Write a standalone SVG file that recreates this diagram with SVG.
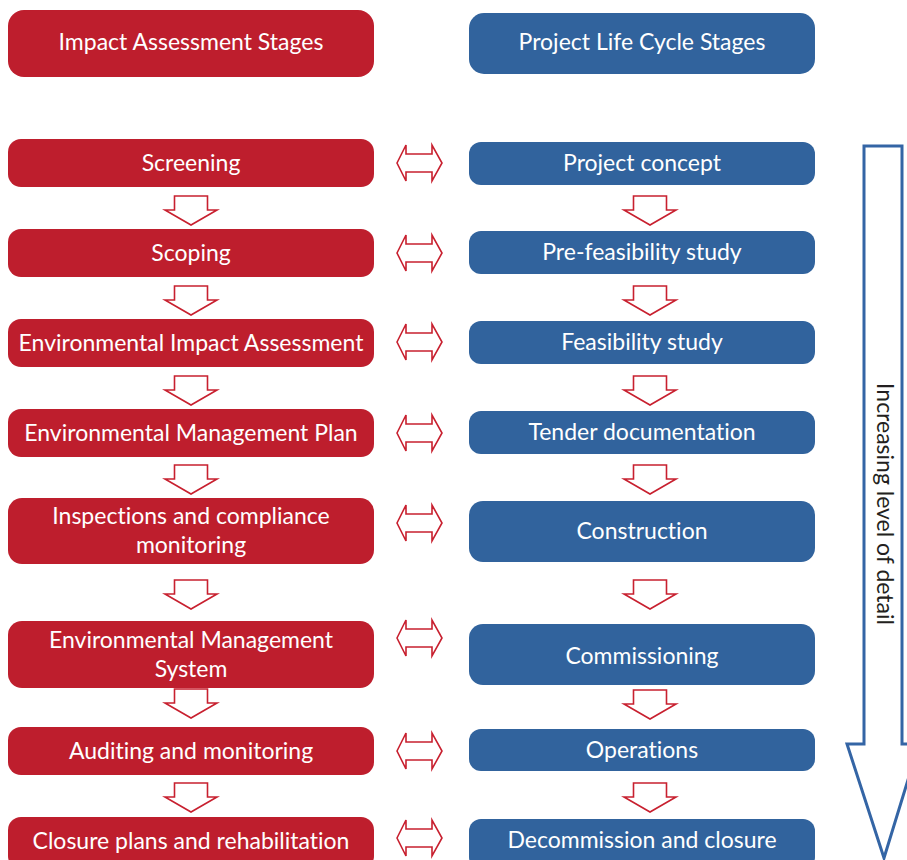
<svg xmlns="http://www.w3.org/2000/svg" xmlns:xlink="http://www.w3.org/1999/xlink" width="907" height="860" viewBox="0 0 907 860">
<style>
.red{fill:#BE1E2D}
.blue{fill:#31639D}
.t{fill:#fff;font-family:Lato,"Noto Sans","Liberation Sans",sans-serif;font-size:23px;text-anchor:middle;font-variant-ligatures:none}
.arr{fill:#fff;stroke:#C8202F;stroke-width:1.6;stroke-linejoin:miter}
.big{fill:none;stroke:#3465A5;stroke-width:3}
.lbl{fill:#231F20;font-family:Lato,"Noto Sans","Liberation Sans",sans-serif;font-size:23px;text-anchor:middle;font-variant-ligatures:none}
</style>
<defs>
<path id="down" d="M -16.5 0 H 16.5 V 14 H 26 L 0 29 L -26 14 H -16.5 Z"/>
<path id="dbl" d="M -22.5 0 L -13.5 -18 V -9 H 12.5 V -18 L 22.5 0 L 12.5 18 V 9 H -13.5 V 18 Z"/>
</defs>
<rect width="907" height="860" fill="#fff"/>

<g id="ia-header"><rect class="red" x="8" y="10" width="366" height="67" rx="16"/><text class="t" x="191" y="50">Impact Assessment Stages</text></g>
<g id="ia-screening"><rect class="red" x="8" y="139" width="366" height="48" rx="13"/><text class="t" x="191" y="171">Screening</text></g>
<g id="ia-scoping"><rect class="red" x="8" y="229" width="366" height="48" rx="13"/><text class="t" x="191" y="261">Scoping</text></g>
<g id="ia-eia"><rect class="red" x="8" y="319" width="366" height="48" rx="13"/><text class="t" x="191" y="351">Environmental Impact Assessment</text></g>
<g id="ia-emp"><rect class="red" x="8" y="409" width="366" height="48" rx="13"/><text class="t" x="191" y="441">Environmental Management Plan</text></g>
<g id="ia-inspections"><rect class="red" x="8" y="498" width="366" height="66" rx="14"/><text class="t" x="191" y="524">Inspections and compliance</text><text class="t" x="191" y="553">monitoring</text></g>
<g id="ia-ems"><rect class="red" x="8" y="621" width="366" height="67" rx="14"/><text class="t" x="191" y="648">Environmental Management</text><text class="t" x="191" y="677">System</text></g>
<g id="ia-auditing"><rect class="red" x="8" y="727" width="366" height="48" rx="13"/><text class="t" x="191" y="759">Auditing and monitoring</text></g>
<g id="ia-closure"><rect class="red" x="8" y="817" width="366" height="52" rx="13"/><text class="t" x="191" y="849">Closure plans and rehabilitation</text></g>

<g id="pl-header"><rect class="blue" x="469" y="13" width="346" height="61" rx="15"/><text class="t" x="642" y="50">Project Life Cycle Stages</text></g>
<g id="pl-concept"><rect class="blue" x="469" y="142" width="346" height="43" rx="12"/><text class="t" x="642" y="171">Project concept</text></g>
<g id="pl-prefeas"><rect class="blue" x="469" y="231" width="346" height="43" rx="12"/><text class="t" x="642" y="260">Pre-feasibility study</text></g>
<g id="pl-feas"><rect class="blue" x="469" y="321" width="346" height="43" rx="12"/><text class="t" x="642" y="350">Feasibility study</text></g>
<g id="pl-tender"><rect class="blue" x="469" y="411" width="346" height="43" rx="12"/><text class="t" x="642" y="440">Tender documentation</text></g>
<g id="pl-construction"><rect class="blue" x="469" y="501" width="346" height="61" rx="14"/><text class="t" x="642" y="539">Construction</text></g>
<g id="pl-commissioning"><rect class="blue" x="469" y="624" width="346" height="61" rx="14"/><text class="t" x="642" y="664">Commissioning</text></g>
<g id="pl-operations"><rect class="blue" x="469" y="729" width="346" height="42" rx="12"/><text class="t" x="642" y="758">Operations</text></g>
<g id="pl-decommission"><rect class="blue" x="469" y="819" width="346" height="50" rx="12"/><text class="t" x="642" y="848">Decommission and closure</text></g>

<g id="connectors">
<use xlink:href="#down" class="arr" x="191" y="196"/>
<use xlink:href="#down" class="arr" x="191" y="286"/>
<use xlink:href="#down" class="arr" x="191" y="376"/>
<use xlink:href="#down" class="arr" x="191" y="465"/>
<use xlink:href="#down" class="arr" x="191" y="580"/>
<use xlink:href="#down" class="arr" x="191" y="689"/>
<use xlink:href="#down" class="arr" x="191" y="783"/>
<use xlink:href="#down" class="arr" x="650" y="196"/>
<use xlink:href="#down" class="arr" x="650" y="286"/>
<use xlink:href="#down" class="arr" x="650" y="376"/>
<use xlink:href="#down" class="arr" x="650" y="465"/>
<use xlink:href="#down" class="arr" x="650" y="580"/>
<use xlink:href="#down" class="arr" x="650" y="690"/>
<use xlink:href="#down" class="arr" x="650" y="783"/>
<use xlink:href="#dbl" class="arr" x="419.5" y="163"/>
<use xlink:href="#dbl" class="arr" x="419.5" y="253"/>
<use xlink:href="#dbl" class="arr" x="419.5" y="342"/>
<use xlink:href="#dbl" class="arr" x="419.5" y="433"/>
<use xlink:href="#dbl" class="arr" x="419.5" y="523"/>
<use xlink:href="#dbl" class="arr" x="419.5" y="638"/>
<use xlink:href="#dbl" class="arr" x="419.5" y="751"/>
<use xlink:href="#dbl" class="arr" x="419.5" y="838"/>
</g>

<g id="detail-arrow">
<path class="big" d="M 864 146 H 902 V 744 H 919 L 884 858 L 847 744 H 864 Z"/>
<text class="lbl" transform="translate(877 504) rotate(90)">Increasing level of detail</text>
</g>
</svg>
